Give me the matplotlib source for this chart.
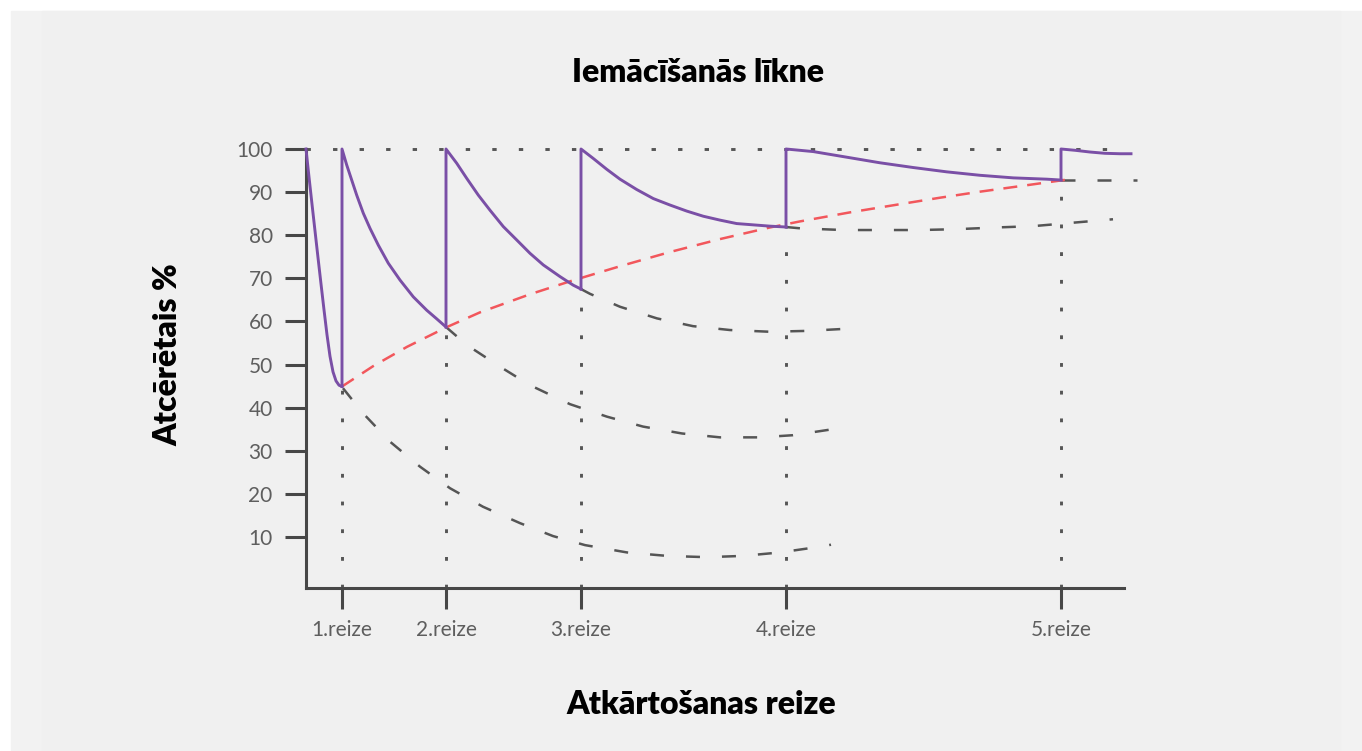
import matplotlib.pyplot as plt
from matplotlib.patches import Rectangle

# x is measured in "time units" along the axis, y in % remembered
reize_x = [0.36, 1.40, 2.75, 4.80, 7.55]
reize_labels = ['1.reize', '2.reize', '3.reize', '4.reize', '5.reize']
y_ticks = [10, 20, 30, 40, 50, 60, 70, 80, 90, 100]

# purple learning curve, one piece per repetition
learn_x = [
    [0.0, 0.03, 0.06, 0.09, 0.12, 0.15, 0.18, 0.21, 0.24, 0.27, 0.30, 0.33, 0.36],
    [0.36, 0.36, 0.407, 0.457, 0.507, 0.573, 0.64, 0.723, 0.823, 0.94, 1.073, 1.207, 1.307, 1.40],
    [1.40, 1.40, 1.507, 1.607, 1.723, 1.84, 1.973, 2.107, 2.24, 2.373, 2.54, 2.673, 2.75],
    [2.75, 2.75, 2.873, 3.007, 3.14, 3.307, 3.473, 3.64, 3.807, 3.973, 4.14, 4.307, 4.473, 4.64, 4.80],
    [4.80, 4.80, 5.073, 5.407, 5.74, 6.073, 6.407, 6.74, 7.073, 7.407, 7.55],
    [7.55, 7.55, 7.69, 7.84, 7.99, 8.14, 8.25],
]
learn_y = [
    [100, 93.5, 87.2, 81.0, 74.8, 68.7, 62.7, 56.9, 51.9, 48.3, 46.2, 45.2, 44.9],
    [44.9, 100, 96.3, 92.8, 89.3, 85.1, 81.6, 77.7, 73.5, 69.6, 65.7, 62.6, 60.6, 58.7],
    [58.7, 100, 96.7, 93.2, 89.3, 85.8, 82.0, 78.9, 75.8, 73.1, 70.4, 68.4, 67.5],
    [67.5, 100, 97.8, 95.3, 93.0, 90.6, 88.5, 87.0, 85.6, 84.4, 83.5, 82.7, 82.4, 82.1, 81.9],
    [81.9, 100, 99.4, 98.1, 96.8, 95.7, 94.7, 93.9, 93.3, 93.0, 92.8],
    [92.8, 100, 99.7, 99.3, 99.0, 98.9, 98.9],
]

# red dashed trend of the minima
trend_x = [0.36, 0.67, 1.01, 1.41, 1.74, 2.24, 2.64, 3.14, 3.64, 4.14, 4.64, 4.94, 5.44, 5.94, 6.34, 6.74, 7.24, 7.64]
trend_y = [44.9, 49.6, 54.1, 58.7, 62.1, 66.3, 69.3, 72.8, 76.1, 79.1, 81.8, 83.2, 85.3, 87.2, 88.7, 90.1, 91.7, 93.0]

# grey dashed forgetting curves (no further repetition)
forget_x = [
    [0.37, 0.57, 0.84, 1.14, 1.44, 1.77, 2.14, 2.47, 2.79, 3.21, 3.61, 4.01, 4.37, 4.74, 5.19, 5.25],
    [1.40, 1.61, 1.94, 2.24, 2.64, 3.01, 3.37, 3.76, 4.14, 4.54, 4.87, 5.27, 5.30],
    [2.75, 2.84, 3.14, 3.51, 3.87, 4.24, 4.64, 5.01, 5.41, 5.49],
    [4.80, 4.94, 5.37, 5.74, 6.14, 6.51, 6.91, 7.27, 7.67, 8.07],
    [7.55, 8.31],
]
forget_y = [
    [44.5, 38.7, 32.1, 26.3, 21.3, 17.0, 13.2, 10.2, 8.1, 6.4, 5.6, 5.3, 5.6, 6.4, 7.9, 8.2],
    [58.7, 54.5, 49.5, 45.2, 40.8, 37.9, 35.6, 34.0, 33.1, 33.1, 33.6, 35.0, 35.2],
    [67.5, 66.4, 63.4, 60.7, 58.9, 58.0, 57.6, 57.8, 58.3, 58.5],
    [81.9, 81.6, 81.2, 81.2, 81.2, 81.4, 81.8, 82.1, 82.9, 83.7],
    [92.8, 92.8],
]

purple = '#7a4fa6'
red = '#f2575c'
grey = '#555555'
axis_col = '#474747'

fig = plt.figure(figsize=(13.62, 7.51), dpi=100, facecolor='white')
fig.patches.append(Rectangle((11 / 1362, 0), 1 - 11 / 1362, 1 - 11 / 751,
                             transform=fig.transFigure, color='#f2f2f2', zorder=-2))
fig.patches.append(Rectangle((42 / 1362, 0), 1298 / 1362, 1 - 11 / 751,
                             transform=fig.transFigure, color='#f0f0f0', zorder=-1))

ax = fig.add_axes([306 / 1362, 1 - 588 / 751, 818 / 1362, 439 / 751])
ax.set_facecolor('none')
ax.set_xlim(0, 8.18)
ax.set_ylim(-1.85, 100)

# dotted guides
ax.plot([0, 8.18], [100, 100], color=grey, lw=2.1, dashes=(1.5, 7.6), clip_on=False, zorder=1)
for xi, seg in zip(reize_x, forget_y):
    ax.plot([xi, xi], [-1.85, seg[0]], color=grey, lw=2.1, dashes=(1.3, 8.2), clip_on=False, zorder=1)

for fx, fy in zip(forget_x, forget_y):
    ax.plot(fx, fy, color=grey, lw=1.8, dashes=(5.6, 8.8), clip_on=False, zorder=2)

ax.plot(trend_x, trend_y, color=red, lw=1.8, dashes=(5.6, 4.0), clip_on=False, zorder=3)

for lx, ly in zip(learn_x, learn_y):
    ax.plot(lx, ly, color=purple, lw=2.1, clip_on=False, zorder=4, solid_joinstyle='round')

for s in ['top', 'right']:
    ax.spines[s].set_visible(False)
for s in ['left', 'bottom']:
    ax.spines[s].set_color(axis_col)
    ax.spines[s].set_linewidth(2.2)
ax.spines['left'].set_bounds(-1.85, 100)

ax.set_yticks(y_ticks)
ax.set_yticklabels([str(v) for v in y_ticks])
ax.set_xticks(reize_x)
ax.set_xticklabels(reize_labels)
ax.tick_params(axis='both', length=15, width=2.2, color=axis_col, labelcolor='#5e5e5e',
               labelsize=15)
ax.tick_params(axis='y', pad=9)
ax.tick_params(axis='x', pad=8)
for lab in ax.get_xticklabels() + ax.get_yticklabels():
    lab.set_family('Lato')

title_kw = dict(ha='center', va='center', fontsize=23, fontweight='heavy', family='Lato', color='black')
fig.text(698 / 1362, 1 - 73 / 751, 'Iemācīšanās līkne', **title_kw)
fig.text(701 / 1362, 1 - 704 / 751, 'Atkārtošanas reize', **title_kw)
fig.text(168 / 1362, 1 - 355 / 751, 'Atcērētais %', rotation=90, **title_kw)

fig.savefig('out.png', dpi=100, facecolor=fig.get_facecolor())
